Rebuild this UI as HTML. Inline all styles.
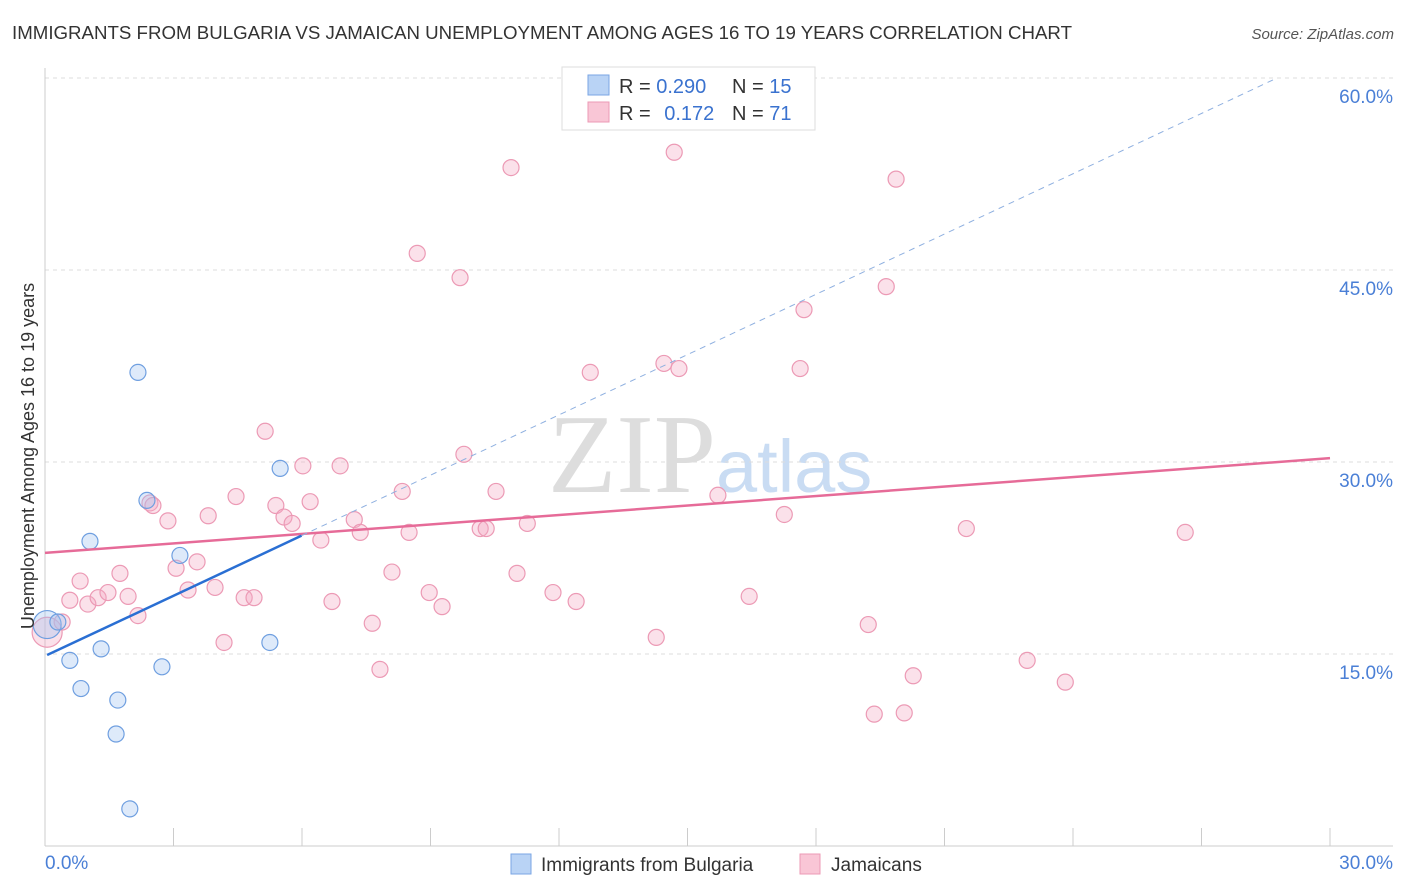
<!DOCTYPE html>
<html><head><meta charset="utf-8"><style>
body{margin:0;background:#fff;font-family:"Liberation Sans",sans-serif;}
svg{display:block}
</style></head><body>
<svg id="chart" width="1406" height="892">
<text x="12" y="39" font-size="18" fill="#333" textLength="1060" lengthAdjust="spacingAndGlyphs">IMMIGRANTS FROM BULGARIA VS JAMAICAN UNEMPLOYMENT AMONG AGES 16 TO 19 YEARS CORRELATION CHART</text>
<text x="1394" y="39" font-size="15" fill="#555" font-style="italic" text-anchor="end">Source: ZipAtlas.com</text>
<text x="716" y="492" font-size="112" fill="#ddd" text-anchor="end" font-family="Liberation Serif">ZIP</text>
<text x="716" y="492" font-size="74" fill="#c9dcf3">atlas</text>
<g id="grid"></g><g id="axes"></g><g id="marks"></g>
<text transform="translate(34,456) rotate(-90)" font-size="18" fill="#333" text-anchor="middle">Unemployment Among Ages 16 to 19 years</text>
<text x="45" y="869" font-size="19" fill="#4a7fd6">0.0%</text>
<text x="1393" y="869" font-size="19" fill="#4a7fd6" text-anchor="end">30.0%</text>
<g>
<rect x="562" y="67" width="253" height="63" fill="#fff" stroke="#ddd"/>
<rect x="588" y="75" width="21" height="20" fill="#b9d3f5" stroke="#7aa6e4"/>
<rect x="588" y="102" width="21" height="20" fill="#f9c6d6" stroke="#ec9ab5"/>
<text x="619" y="93" font-size="20" fill="#333">R = <tspan fill="#3a72cf">0.290</tspan></text>
<text x="732" y="93" font-size="20" fill="#333">N = <tspan fill="#3a72cf">15</tspan></text>
<text x="619" y="120" font-size="20" fill="#333">R = <tspan fill="#3a72cf" dx="8">0.172</tspan></text>
<text x="732" y="120" font-size="20" fill="#333">N = <tspan fill="#3a72cf">71</tspan></text>
</g>
<g>
<rect x="511" y="854" width="20" height="20" fill="#b9d3f5" stroke="#7aa6e4"/>
<text x="541" y="871" font-size="19" fill="#333">Immigrants from Bulgaria</text>
<rect x="800" y="854" width="20" height="20" fill="#f9c6d6" stroke="#ec9ab5"/>
<text x="831" y="871" font-size="19" fill="#333">Jamaicans</text>
</g>
</svg>
<script>
const blueX=[0.05,0.30,0.58,0.84,1.05,1.31,1.70,1.66,1.98,2.17,2.38,2.73,3.15,5.25,5.49];
const blueY=[17.3,17.5,14.5,12.3,23.8,15.4,11.4,8.75,2.9,37.0,27.0,14.0,22.7,15.9,29.5];
const pinkX=[0.05,0.40,0.58,0.82,1.00,1.24,1.47,1.75,1.94,2.17,2.45,2.52,2.87,3.06,3.34,3.55,3.81,3.97,4.18,4.46,4.65,4.88,5.14,5.39,5.58,5.77,6.02,6.19,6.44,6.89,7.22,7.36,6.70,7.64,7.82,8.10,8.34,8.50,8.69,8.97,9.27,9.69,9.78,10.16,10.30,10.53,10.88,11.02,11.26,11.86,12.40,12.73,14.27,14.45,14.69,14.80,15.71,16.44,17.26,17.63,17.72,19.22,19.36,19.64,19.87,20.06,20.27,21.51,22.93,23.82,26.62];
const pinkY=[16.7,17.5,19.2,20.7,18.9,19.4,19.8,21.3,19.5,18.0,26.8,26.6,25.4,21.7,20.0,22.2,25.8,20.2,15.9,27.3,19.4,19.4,32.4,26.6,25.7,25.2,29.7,26.9,23.9,29.7,25.5,24.5,19.1,17.4,13.8,21.4,27.7,24.5,46.3,19.8,18.7,44.4,30.6,24.8,24.8,27.7,53.0,21.3,25.2,19.8,19.1,37.0,16.3,37.7,54.2,37.3,27.4,19.5,25.9,37.3,41.9,17.3,10.3,43.7,52.1,10.4,13.3,24.8,14.5,12.8,24.5];
const yTicks=[15,30,45,60];
const xTicks=[0,3,6,9,12,15,18,21,24,27,30];
const blueLine=[14.84,1.57]; // intercept, slope
const pinkLine=[22.9,30.3]; // value at 0 and 30
const NS="http://www.w3.org/2000/svg";
const sx=v=>45+v*1285/30, sy=v=>846-v*192/15;
function mk(tag,attrs,parent){const e=document.createElementNS(NS,tag);for(const k in attrs)e.setAttribute(k,attrs[k]);document.getElementById(parent).appendChild(e);return e;}
yTicks.forEach(t=>{
 const l=mk('line',{x1:45,x2:1393,y1:sy(t),y2:sy(t),stroke:'#ddd','stroke-dasharray':'4,4'},'grid');
 
 
 const tx=mk('text',{x:1393,y:sy(t)+25,'font-size':19,fill:'#4a7fd6','text-anchor':'end'},'grid');tx.textContent=t.toFixed(1)+'%';
 
 
});
mk('line',{x1:45,x2:45,y1:68,y2:846,stroke:'#ccc'},'axes');
mk('line',{x1:45,x2:1393,y1:846,y2:846,stroke:'#ccc'},'axes');
xTicks.forEach(t=>{const l=mk('line',{x1:sx(t),x2:sx(t),y1:828,y2:846,stroke:'#ccc'},'axes');
 
 });
pinkX.forEach((x,i)=>{const c=mk('circle',{cx:sx(x),cy:sy(pinkY[i]),r:i==0?15:8,fill:'rgba(244,170,196,0.35)',stroke:'#ec9ab5','stroke-width':1.2},'marks');
 
 });
blueX.forEach((x,i)=>{const c=mk('circle',{cx:sx(x),cy:sy(blueY[i]),r:i==0?14:8,fill:'rgba(160,196,240,0.35)',stroke:'#6f9fe0','stroke-width':1.2},'marks');
 
 });
const pl=mk('line',{x1:sx(0),y1:sy(pinkLine[0]),x2:sx(30),y2:sy(pinkLine[1]),stroke:'#e66b98','stroke-width':2.5},'marks');


const xe=Math.max(...blueX), xd=(60-blueLine[0])/blueLine[1];
const bl=mk('line',{x1:sx(0.05),y1:sy(blueLine[0]+blueLine[1]*0.05),x2:sx(xe+0.5),y2:sy(blueLine[0]+blueLine[1]*(xe+0.5)),stroke:'#2a6fd3','stroke-width':2.5},'marks');


const bd=mk('line',{x1:sx(xe+0.5),y1:sy(blueLine[0]+blueLine[1]*(xe+0.5)),x2:sx(xd),y2:sy(60),stroke:'#8fb0e0','stroke-width':1,'stroke-dasharray':'6,5'},'marks');


</script>
</body></html>
